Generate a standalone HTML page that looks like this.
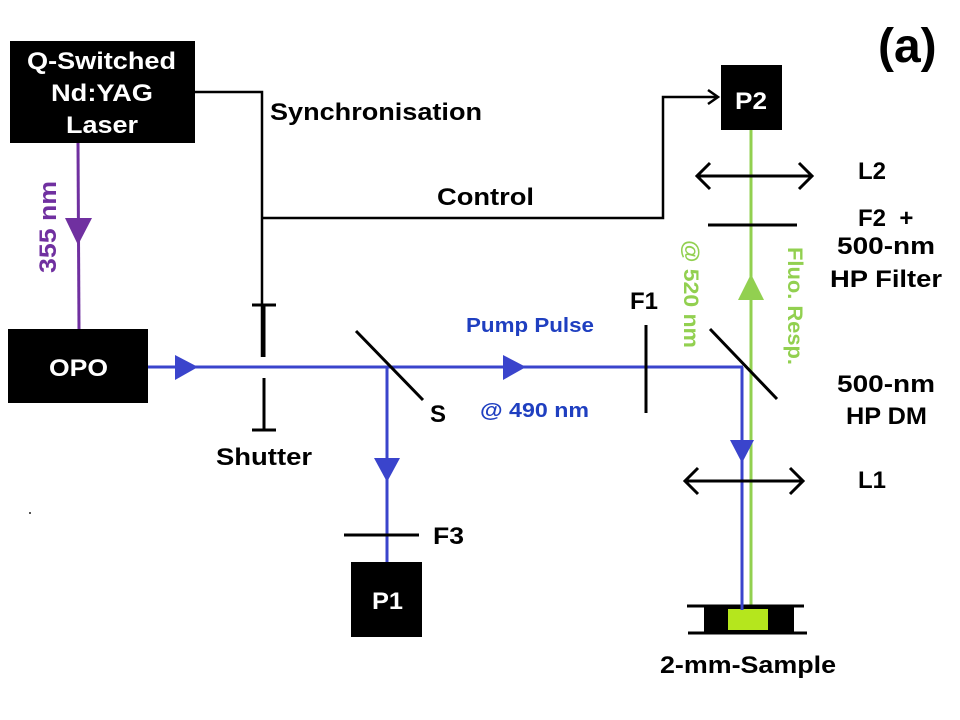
<!DOCTYPE html>
<html><head><meta charset="utf-8"><style>
html,body{margin:0;padding:0;background:#fff}
svg{display:block}
text{font-family:"Liberation Sans",Arial,sans-serif;font-weight:bold}
</style></head><body>
<svg width="960" height="720" viewBox="0 0 960 720" xmlns="http://www.w3.org/2000/svg">
<rect x="10" y="41" width="185" height="102" fill="#000"/>
<text x="27" y="69" font-size="24" fill="#fff" textLength="149" lengthAdjust="spacingAndGlyphs">Q-Switched</text>
<text x="51" y="101" font-size="24" fill="#fff" textLength="102" lengthAdjust="spacingAndGlyphs">Nd:YAG</text>
<text x="66" y="133" font-size="24" fill="#fff" textLength="72" lengthAdjust="spacingAndGlyphs">Laser</text>
<polyline points="195,92 262,92 262,357" fill="none" stroke="#000" stroke-width="2.5"/>
<polyline points="262,218 663,218 663,97 716,97" fill="none" stroke="#000" stroke-width="2.5"/>
<polyline points="708,90 718,97 708,104" fill="none" stroke="#000" stroke-width="2.5"/>
<line x1="252" y1="305" x2="276" y2="305" stroke="#000" stroke-width="3"/>
<line x1="264" y1="305" x2="264" y2="357" stroke="#000" stroke-width="3"/>
<line x1="264" y1="378" x2="264" y2="430" stroke="#000" stroke-width="3"/>
<line x1="252" y1="430" x2="276" y2="430" stroke="#000" stroke-width="3"/>
<text x="216" y="465" font-size="24" fill="#000" textLength="96" lengthAdjust="spacingAndGlyphs">Shutter</text>
<text x="270" y="120" font-size="24" fill="#000" textLength="212" lengthAdjust="spacingAndGlyphs">Synchronisation</text>
<text x="437" y="205" font-size="24" fill="#000" textLength="97" lengthAdjust="spacingAndGlyphs">Control</text>
<line x1="78" y1="143" x2="79" y2="330" stroke="#7030a0" stroke-width="3"/>
<polygon points="65,218 92,218 78,245" fill="#7030a0"/>
<text transform="translate(56,273) rotate(-90)" font-size="24" fill="#7030a0" textLength="92" lengthAdjust="spacingAndGlyphs">355 nm</text>
<rect x="8" y="329" width="140" height="74" fill="#000"/>
<text x="49" y="376" font-size="24" fill="#fff" textLength="59" lengthAdjust="spacingAndGlyphs">OPO</text>
<line x1="148" y1="367" x2="743" y2="367" stroke="#3a44cc" stroke-width="3"/>
<polygon points="175,355 175,380 198,367" fill="#3a44cc"/>
<polygon points="503,355 503,380 526,367" fill="#3a44cc"/>
<line x1="356" y1="331" x2="423" y2="400" stroke="#000" stroke-width="3"/>
<text x="430" y="422" font-size="24" fill="#000">S</text>
<line x1="387" y1="367" x2="387" y2="563" stroke="#3a44cc" stroke-width="3"/>
<polygon points="374,458 400,458 387,482" fill="#3a44cc"/>
<line x1="344" y1="535" x2="419" y2="535" stroke="#000" stroke-width="3"/>
<text x="433" y="544" font-size="24" fill="#000" textLength="31" lengthAdjust="spacingAndGlyphs">F3</text>
<rect x="351" y="562" width="71" height="75" fill="#000"/>
<text x="372" y="609" font-size="24" fill="#fff" textLength="31" lengthAdjust="spacingAndGlyphs">P1</text>
<text x="466" y="332" font-size="20" fill="#1f3fc0" textLength="128" lengthAdjust="spacingAndGlyphs">Pump Pulse</text>
<text x="480" y="417" font-size="20" fill="#1f3fc0" textLength="109" lengthAdjust="spacingAndGlyphs">@ 490 nm</text>
<line x1="646" y1="325" x2="646" y2="413" stroke="#000" stroke-width="3"/>
<text x="630" y="309" font-size="24" fill="#000" textLength="28" lengthAdjust="spacingAndGlyphs">F1</text>
<line x1="751" y1="128" x2="751" y2="608" stroke="#92d050" stroke-width="3"/>
<polygon points="738,300 764,300 751,274" fill="#92d050"/>
<line x1="742" y1="367" x2="742" y2="608" stroke="#3a44cc" stroke-width="3"/>
<polygon points="730,440 754,440 742,463" fill="#3a44cc"/>
<line x1="710" y1="329" x2="777" y2="399" stroke="#000" stroke-width="3"/>
<rect x="721" y="65" width="61" height="65" fill="#000"/>
<text x="735" y="109" font-size="24" fill="#fff" textLength="32" lengthAdjust="spacingAndGlyphs">P2</text>
<line x1="697" y1="176" x2="812" y2="176" stroke="#000" stroke-width="3"/>
<polyline points="710,163 697,176 710,189" fill="none" stroke="#000" stroke-width="3"/>
<polyline points="799,163 812,176 799,189" fill="none" stroke="#000" stroke-width="3"/>
<line x1="708" y1="225" x2="797" y2="225" stroke="#000" stroke-width="3"/>
<line x1="685" y1="481" x2="803" y2="481" stroke="#000" stroke-width="3"/>
<polyline points="698,468 685,481 698,494" fill="none" stroke="#000" stroke-width="3"/>
<polyline points="790,468 803,481 790,494" fill="none" stroke="#000" stroke-width="3"/>
<text transform="translate(684,240) rotate(90)" font-size="21" fill="#92d050" textLength="108" lengthAdjust="spacingAndGlyphs">@ 520 nm</text>
<text transform="translate(788,247) rotate(90)" font-size="21" fill="#92d050" textLength="118" lengthAdjust="spacingAndGlyphs">Fluo. Resp.</text>
<text x="858" y="179" font-size="24" fill="#000" textLength="28" lengthAdjust="spacingAndGlyphs">L2</text>
<text x="858" y="226" font-size="24" fill="#000" xml:space="preserve">F2  +</text>
<text x="837" y="254" font-size="24" fill="#000" textLength="98" lengthAdjust="spacingAndGlyphs">500-nm</text>
<text x="830" y="287" font-size="24" fill="#000" textLength="112" lengthAdjust="spacingAndGlyphs">HP Filter</text>
<text x="837" y="392" font-size="24" fill="#000" textLength="98" lengthAdjust="spacingAndGlyphs">500-nm</text>
<text x="846" y="424" font-size="24" fill="#000" textLength="81" lengthAdjust="spacingAndGlyphs">HP DM</text>
<text x="858" y="488" font-size="24" fill="#000" textLength="28" lengthAdjust="spacingAndGlyphs">L1</text>
<text x="878" y="62" font-size="48" fill="#000">(a)</text>
<line x1="687" y1="606" x2="804" y2="606" stroke="#000" stroke-width="3"/>
<line x1="688" y1="633" x2="807" y2="633" stroke="#000" stroke-width="3"/>
<rect x="704" y="606" width="90" height="27" fill="#000"/>
<rect x="728" y="609" width="40" height="21" fill="#b5e61d"/>
<line x1="742" y1="590" x2="742" y2="610" stroke="#3a44cc" stroke-width="3"/>
<text x="660" y="673" font-size="24" fill="#000" textLength="176" lengthAdjust="spacingAndGlyphs">2-mm-Sample</text>
<rect x="29" y="512" width="2" height="2" fill="#555"/>
</svg>
</body></html>
